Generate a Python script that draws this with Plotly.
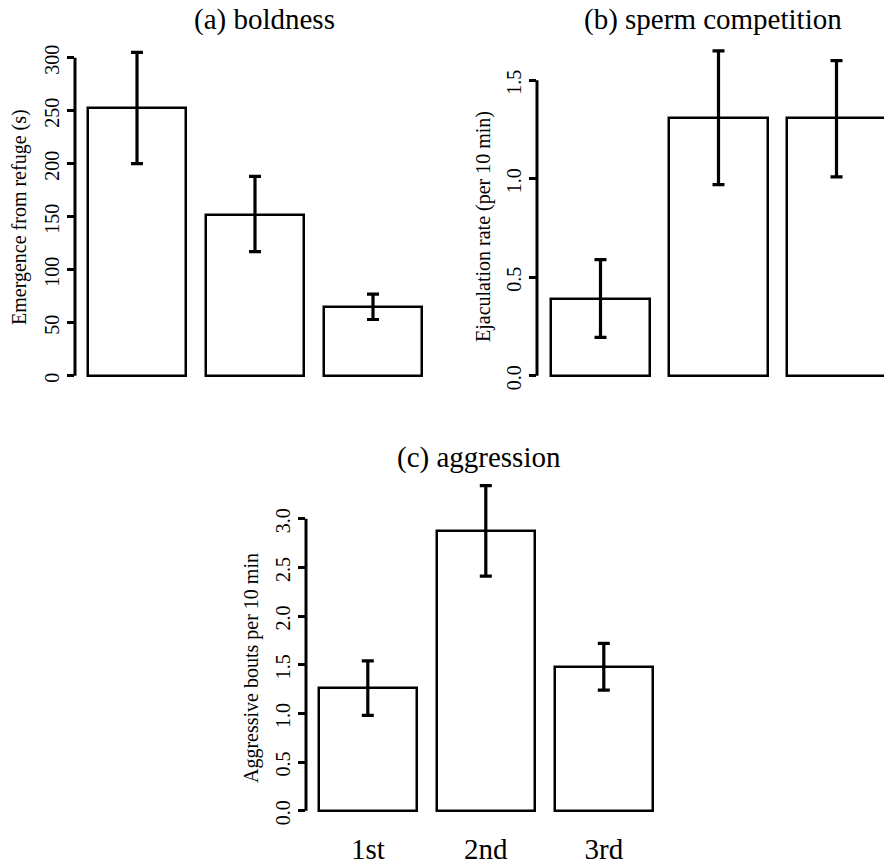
import plotly.graph_objects as go

W, H = 884, 864

# ---------------- data ----------------
categories = ["1st", "2nd", "3rd"]

bold_mean = [253, 152, 65]
bold_upper = [305, 188, 77]
bold_lower = [200, 117, 53]

sperm_mean = [0.39, 1.31, 1.31]
sperm_upper = [0.59, 1.65, 1.60]
sperm_lower = [0.195, 0.97, 1.01]

aggr_mean = [1.26, 2.87, 1.48]
aggr_upper = [1.54, 3.34, 1.72]
aggr_lower = [0.98, 2.41, 1.24]

titles = ["(a) boldness", "(b) sperm competition", "(c) aggression"]
ytitles = ["Emergence from refuge (s)", "Ejaculation rate (per 10 min)",
           "Aggressive bouts per 10 min"]
yticks_a = [0, 50, 100, 150, 200, 250, 300]
yticks_b = [0.0, 0.5, 1.0, 1.5]
yticks_c = [0.0, 0.5, 1.0, 1.5, 2.0, 2.5, 3.0]

# ---------------- layout geometry (pixels) ----------------
FONT = "Liberation Serif, Times New Roman, Times, serif"
panels = [
    dict(mean=bold_mean, up=bold_upper, lo=bold_lower, ticks=yticks_a, fmt="d",
         axis=75, right=440, c0=137, sp=118, y0=375.7, ppu=1.06, top=40, bottom=385,
         title_xy=(264, 20), ytitle_xy=(19, 217), xlabels=False),
    dict(mean=sperm_mean, up=sperm_upper, lo=sperm_lower, ticks=yticks_b, fmt=".1f",
         axis=537, right=884, c0=600.5, sp=118, y0=375.7, ppu=196.9, top=40, bottom=385,
         title_xy=(713, 20), ytitle_xy=(483, 226), xlabels=False),
    dict(mean=aggr_mean, up=aggr_upper, lo=aggr_lower, ticks=yticks_c, fmt=".1f",
         axis=306, right=690, c0=367.8, sp=118, y0=810.7, ppu=97.3, top=470, bottom=815,
         title_xy=(479, 457), ytitle_xy=(251, 668), xlabels=True),
]

fig = go.Figure()
shapes = []
annotations = []
xpos = list(range(len(categories)))

for i, p in enumerate(panels):
    n = "" if i == 0 else str(i + 1)
    xa, ya = "x" + n, "y" + n
    fig.add_trace(go.Bar(
        x=xpos, y=p["mean"], width=0.833,
        marker=dict(color="white", line=dict(color="black", width=2.5)),
        error_y=dict(type="data", symmetric=False,
                     array=[u - m for u, m in zip(p["up"], p["mean"])],
                     arrayminus=[m - l for m, l in zip(p["mean"], p["lo"])],
                     color="black", thickness=3.2, width=6),
        xaxis=xa, yaxis=ya, showlegend=False, hoverinfo="skip",
    ))
    xdom = [p["axis"] / W, p["right"] / W]
    xr = [(p["axis"] - p["c0"]) / p["sp"], (p["right"] - p["c0"]) / p["sp"]]
    ydom = [1 - p["bottom"] / H, 1 - p["top"] / H]
    yr = [(p["y0"] - p["bottom"]) / p["ppu"], (p["y0"] - p["top"]) / p["ppu"]]
    xkey, ykey = "xaxis" + n, "yaxis" + n
    xcfg = dict(domain=xdom, range=xr, showgrid=False, zeroline=False,
                showline=False, anchor=ya, fixedrange=True, automargin=False)
    if p["xlabels"]:
        xcfg.update(tickmode="array", tickvals=xpos, ticktext=categories,
                    ticks="", showticklabels=True,
                    tickfont=dict(family=FONT, size=29, color="black"),
                    ticklabelstandoff=14)
    else:
        xcfg.update(showticklabels=False, ticks="")
    ycfg = dict(domain=ydom, range=yr, showgrid=False, zeroline=False,
                showline=False, anchor=xa, tickmode="array", tickvals=p["ticks"],
                tickformat=p["fmt"], ticks="outside", ticklen=7, tickwidth=3,
                tickcolor="black", tickangle=-90,
                tickfont=dict(family=FONT, size=20, color="black"),
                ticklabelstandoff=0, ticklabelshift=5, fixedrange=True,
                automargin=False)
    fig.update_layout(**{xkey: xcfg, ykey: ycfg})
    shapes.append(dict(type="line", xref=xa + " domain", yref=ya,
                       x0=0, x1=0, y0=p["ticks"][0], y1=p["ticks"][-1],
                       line=dict(color="black", width=3)))
    tx, ty = p["title_xy"]
    annotations.append(dict(text=titles[i], x=tx / W, y=1 - ty / H, xref="paper",
                            yref="paper", showarrow=False, xanchor="center",
                            yanchor="middle",
                            font=dict(family=FONT, size=29, color="black")))
    yx, yy = p["ytitle_xy"]
    annotations.append(dict(text=ytitles[i], x=yx / W, y=1 - yy / H, xref="paper",
                            yref="paper", showarrow=False, xanchor="center",
                            yanchor="middle", textangle=-90,
                            font=dict(family=FONT, size=20, color="black")))

fig.update_layout(width=W, height=H, margin=dict(l=0, r=0, t=0, b=0),
                  paper_bgcolor="white", plot_bgcolor="white",
                  shapes=shapes, annotations=annotations, bargap=0)

fig.write_html("out.html", config={"displayModeBar": False},
               post_script="document.body.style.margin='0px';"
                           "document.body.style.overflow='hidden';")
